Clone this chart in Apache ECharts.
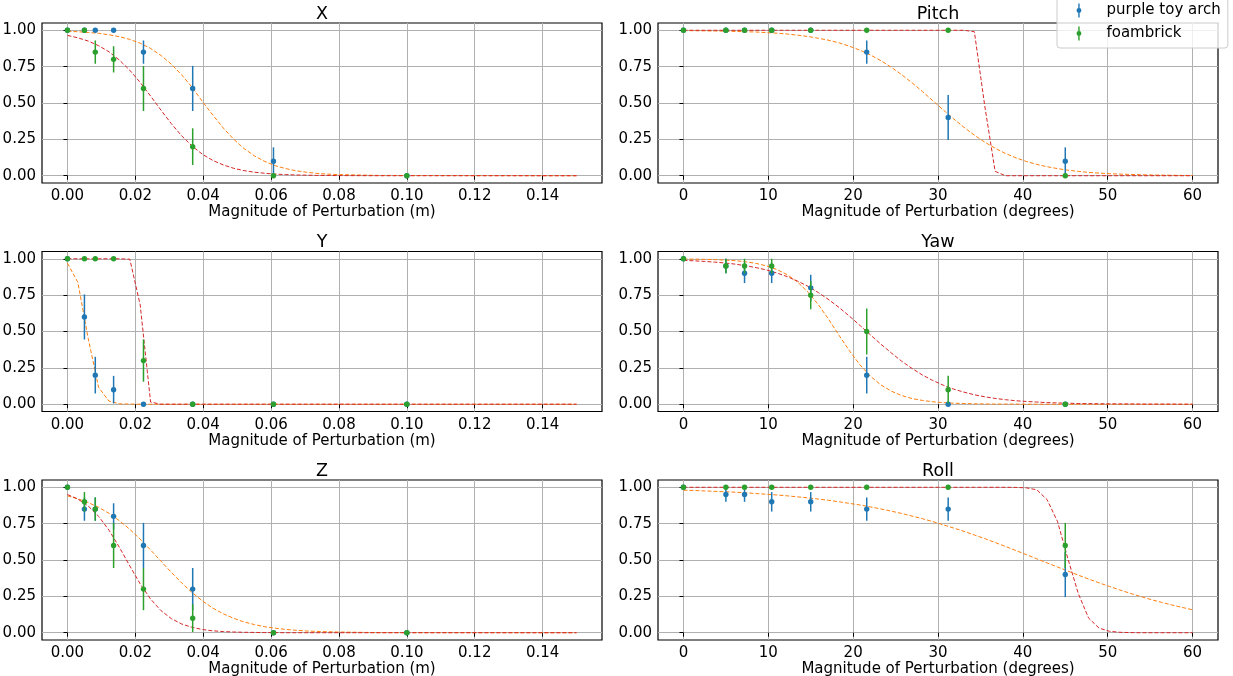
<!DOCTYPE html>
<html>
<head>
<meta charset="utf-8">
<script src="https://cdn.jsdelivr.net/npm/echarts@6/dist/echarts.min.js"></script>
<style>
html,body{margin:0;padding:0;background:#fff;}
#chart{width:1233px;height:676px;}
</style>
</head>
<body>
<div id="chart"></div>
<script>
// ---------- measured perturbation magnitudes ----------
const xsM   = [0, 0.005, 0.0082, 0.0136, 0.0224, 0.0369, 0.0607, 0.1];
const xsDeg = [0, 5, 7.2, 10.4, 15, 21.6, 31.2, 45];

// ---------- tick labels ----------
const ticksM   = [0, 0.02, 0.04, 0.06, 0.08, 0.10, 0.12, 0.14];
const ticksDeg = [0, 10, 20, 30, 40, 50, 60];
const ticksY   = [0, 0.25, 0.5, 0.75, 1.0];

// ---------- sample positions of the fitted curves ----------
const curveXM = [0, 0.00306, 0.00612, 0.00918, 0.01224, 0.01531, 0.01837, 0.02143, 0.02449, 0.02755,
  0.03061, 0.03367, 0.03673, 0.0398, 0.04286, 0.04592, 0.04898, 0.05204, 0.0551, 0.05816,
  0.06122, 0.06429, 0.06735, 0.07041, 0.07347, 0.07653, 0.07959, 0.0918, 0.15];
const curveXDeg = [0, 1.224, 2.449, 3.673, 4.898, 6.122, 7.347, 8.571, 9.796, 11.02,
  12.245, 13.469, 14.694, 15.918, 17.143, 18.367, 19.592, 20.816, 22.041, 23.265,
  24.49, 25.714, 26.939, 28.163, 29.388, 30.612, 31.837, 33.061, 34.286, 35.51,
  36.735, 37.959, 39.184, 40.408, 41.633, 42.857, 44.082, 45.306, 46.531, 47.755,
  48.98, 50.204, 51.429, 52.653, 53.878, 55.102, 56.327, 57.551, 58.776, 60];

// ---------- X ----------
const xArch    = [1, 1, 1, 1, 0.85, 0.6, 0.1, 0];
const xArchErr = [0, 0, 0, 0, 0.08, 0.155, 0.095, 0];
const xFoam    = [1, 1, 0.85, 0.8, 0.6, 0.2, 0, 0];
const xFoamErr = [0, 0, 0.08, 0.09, 0.155, 0.126, 0, 0];
const xFitArch = [0.993, 0.990, 0.985, 0.979, 0.969, 0.956, 0.937, 0.911, 0.875, 0.827, 0.767, 0.693, 0.608, 0.509, 0.416, 0.328, 0.251, 0.187, 0.136, 0.098, 0.069, 0.049, 0.034, 0.024, 0.016, 0.011, 0.008, 0.002, 0];
const xFitFoam = [0.965, 0.948, 0.926, 0.894, 0.852, 0.795, 0.725, 0.641, 0.548, 0.451, 0.358, 0.274, 0.204, 0.147, 0.105, 0.074, 0.051, 0.035, 0.024, 0.017, 0.011, 0.008, 0.005, 0.004, 0.002, 0.002, 0.001, 0, 0];

// ---------- Y ----------
const yArch    = [1, 0.6, 0.2, 0.1, 0, 0, 0, 0];
const yArchErr = [0, 0.155, 0.126, 0.095, 0, 0, 0, 0];
const yFoam    = [1, 1, 1, 1, 0.3, 0, 0, 0];
const yFoamErr = [0, 0, 0, 0, 0.145, 0, 0, 0];
const yFitArch = [0.970, 0.838, 0.452, 0.116, 0.021, 0.003, 0.001, 0, 0, 0, 0, 0, 0, 0, 0, 0, 0, 0, 0, 0, 0, 0, 0, 0, 0, 0, 0, 0, 0];
const yFitFoam = [1, 1, 1, 1, 1, 1, 0.997, 0.683, 0.015, 0, 0, 0, 0, 0, 0, 0, 0, 0, 0, 0, 0, 0, 0, 0, 0, 0, 0, 0, 0];

// ---------- Z ----------
const zArch    = [1, 0.85, 0.85, 0.8, 0.6, 0.3, 0, 0];
const zArchErr = [0, 0.08, 0.08, 0.09, 0.155, 0.145, 0, 0];
const zFoam    = [1, 0.9, 0.85, 0.6, 0.3, 0.1, 0, 0];
const zFoamErr = [0, 0.067, 0.08, 0.155, 0.145, 0.095, 0, 0];
const zFitArch = [0.941, 0.921, 0.895, 0.862, 0.821, 0.770, 0.711, 0.643, 0.569, 0.492, 0.415, 0.342, 0.276, 0.218, 0.169, 0.130, 0.099, 0.074, 0.056, 0.041, 0.031, 0.023, 0.017, 0.012, 0.009, 0.007, 0.005, 0.001, 0];
const zFitFoam = [0.950, 0.919, 0.871, 0.800, 0.705, 0.587, 0.459, 0.336, 0.232, 0.152, 0.097, 0.060, 0.037, 0.022, 0.013, 0.008, 0.005, 0.003, 0.002, 0.001, 0.001, 0, 0, 0, 0, 0, 0, 0, 0];

// ---------- Pitch ----------
const pitchArch    = [1, 1, 1, 1, 1, 0.85, 0.4, 0.1];
const pitchArchErr = [0, 0, 0, 0, 0, 0.08, 0.155, 0.095];
const pitchFoam    = [1, 1, 1, 1, 1, 1, 1, 0];
const pitchFoamErr = [0, 0, 0, 0, 0, 0, 0, 0];
const pitchFitArch = [0.998, 0.997, 0.996, 0.995, 0.994, 0.992, 0.990, 0.988, 0.984, 0.980,
  0.974, 0.966, 0.957, 0.945, 0.931, 0.913, 0.890, 0.863, 0.830, 0.791,
  0.746, 0.695, 0.639, 0.579, 0.516, 0.453, 0.391, 0.333, 0.279, 0.231,
  0.189, 0.153, 0.123, 0.098, 0.078, 0.062, 0.049, 0.038, 0.030, 0.023,
  0.018, 0.014, 0.011, 0.009, 0.007, 0.005, 0.004, 0.003, 0.002, 0.002];
const pitchFitFoam = [1, 1, 1, 1, 1, 1, 1, 1, 1, 1,
  1, 1, 1, 1, 1, 1, 1, 1, 1, 1,
  1, 1, 1, 1, 1, 1, 1, 1, 0.99, 0.48,
  0.03, 0, 0, 0, 0, 0, 0, 0, 0, 0,
  0, 0, 0, 0, 0, 0, 0, 0, 0, 0];

// ---------- Yaw ----------
const yawArch    = [1, 0.95, 0.9, 0.9, 0.8, 0.2, 0, 0];
const yawArchErr = [0, 0.05, 0.067, 0.067, 0.09, 0.126, 0, 0];
const yawFoam    = [1, 0.95, 0.95, 0.95, 0.75, 0.5, 0.1, 0];
const yawFoamErr = [0, 0.05, 0.05, 0.05, 0.097, 0.158, 0.095, 0];
const yawFitArch = [0.998, 0.998, 0.996, 0.994, 0.991, 0.987, 0.979, 0.968, 0.951, 0.926,
  0.890, 0.839, 0.770, 0.683, 0.581, 0.471, 0.365, 0.270, 0.192, 0.133,
  0.090, 0.060, 0.039, 0.026, 0.017, 0.011, 0.007, 0.005, 0.003, 0.002,
  0.001, 0.001, 0.001, 0, 0, 0, 0, 0, 0, 0,
  0, 0, 0, 0, 0, 0, 0, 0, 0, 0];
const yawFitFoam = [0.989, 0.986, 0.982, 0.977, 0.971, 0.963, 0.952, 0.939, 0.923, 0.902,
  0.877, 0.846, 0.810, 0.767, 0.718, 0.664, 0.604, 0.541, 0.477, 0.413,
  0.353, 0.296, 0.246, 0.201, 0.163, 0.131, 0.104, 0.083, 0.065, 0.051,
  0.040, 0.031, 0.024, 0.019, 0.015, 0.011, 0.009, 0.007, 0.005, 0.004,
  0.003, 0.003, 0.002, 0.002, 0.001, 0.001, 0.001, 0.001, 0, 0];

// ---------- Roll ----------
const rollArch    = [1, 0.95, 0.95, 0.9, 0.9, 0.85, 0.85, 0.4];
const rollArchErr = [0, 0.05, 0.05, 0.067, 0.067, 0.08, 0.08, 0.155];
const rollFoam    = [1, 1, 1, 1, 1, 1, 1, 0.6];
const rollFoamErr = [0, 0, 0, 0, 0, 0, 0, 0.155];
const rollFitArch = [0.980, 0.978, 0.975, 0.972, 0.969, 0.966, 0.962, 0.957, 0.952, 0.947,
  0.941, 0.934, 0.927, 0.919, 0.910, 0.900, 0.889, 0.878, 0.865, 0.851,
  0.836, 0.820, 0.802, 0.784, 0.764, 0.742, 0.720, 0.697, 0.672, 0.647,
  0.620, 0.593, 0.565, 0.537, 0.508, 0.480, 0.452, 0.424, 0.396, 0.369,
  0.343, 0.318, 0.294, 0.271, 0.249, 0.228, 0.209, 0.191, 0.174, 0.158];
const rollFitFoam = [1, 1, 1, 1, 1, 1, 1, 1, 1, 1,
  1, 1, 1, 1, 1, 1, 1, 1, 1, 1,
  1, 1, 1, 1, 1, 1, 1, 1, 1, 1,
  1, 1, 0.999, 0.996, 0.983, 0.915, 0.765, 0.51, 0.27, 0.1,
  0.032, 0.01, 0.003, 0.001, 0, 0, 0, 0, 0, 0];

// ---------- assembly ----------
const FONT = 'DejaVu Sans';
const C_ARCH = '#1f77b4', C_FOAM = '#2ca02c', C_FIT_ARCH = '#ff7f0e', C_FIT_FOAM = '#d62728';
const NAME_ARCH = 'purple toy arch', NAME_FOAM = 'foambrick';

const panels = [
  {title: 'X',     deg: false, xs: xsM,   cx: curveXM,   a: xArch,     ae: xArchErr,     f: xFoam,     fe: xFoamErr,     fa: xFitArch,     ff: xFitFoam},
  {title: 'Pitch', deg: true,  xs: xsDeg, cx: curveXDeg, a: pitchArch, ae: pitchArchErr, f: pitchFoam, fe: pitchFoamErr, fa: pitchFitArch, ff: pitchFitFoam},
  {title: 'Y',     deg: false, xs: xsM,   cx: curveXM,   a: yArch,     ae: yArchErr,     f: yFoam,     fe: yFoamErr,     fa: yFitArch,     ff: yFitFoam},
  {title: 'Yaw',   deg: true,  xs: xsDeg, cx: curveXDeg, a: yawArch,   ae: yawArchErr,   f: yawFoam,   fe: yawFoamErr,   fa: yawFitArch,   ff: yawFitFoam},
  {title: 'Z',     deg: false, xs: xsM,   cx: curveXM,   a: zArch,     ae: zArchErr,     f: zFoam,     fe: zFoamErr,     fa: zFitArch,     ff: zFitFoam},
  {title: 'Roll',  deg: true,  xs: xsDeg, cx: curveXDeg, a: rollArch,  ae: rollArchErr,  f: rollFoam,  fe: rollFoamErr,  fa: rollFitArch,  ff: rollFitFoam}
];

const colLeft = [42, 658];
const rowTop = [23, 251.5, 480];
const GW = 560, GH = 160;

function errRender(params, api) {
  const x = api.value(0), y = api.value(1), e = api.value(2);
  const c = api.coord([x, y]);
  const t = api.coord([x, y + e]);
  const b = api.coord([x, y - e]);
  const color = api.visual('color');
  const children = [];
  if (e > 0) {
    children.push({type: 'line', shape: {x1: t[0], y1: t[1], x2: b[0], y2: b[1]},
      style: {stroke: color, lineWidth: 1.5}});
  }
  children.push({type: 'circle', shape: {cx: c[0], cy: c[1], r: 2.7}, style: {fill: color}});
  return {type: 'group', children: children};
}

const grids = [], xAxes = [], yAxes = [], titles = [], series = [];
panels.forEach((p, i) => {
  const left = colLeft[i % 2], top = rowTop[Math.floor(i / 2)];
  grids.push({left: left, top: top, width: GW, height: GH, show: true,
    borderColor: '#000', borderWidth: 1.2, backgroundColor: 'transparent',
    containLabel: false, outerBoundsMode: 'none'});
  const xt = p.deg ? ticksDeg : ticksM;
  xAxes.push({
    type: 'value', gridIndex: i,
    min: p.deg ? -3 : -0.0075, max: p.deg ? 63 : 0.1575,
    axisLine: {show: false},
    axisTick: {show: true, length: 4, inside: false, customValues: xt, lineStyle: {color: '#000', width: 1}},
    axisLabel: {customValues: xt, margin: 6, fontSize: 15, color: '#000', fontFamily: FONT,
      formatter: v => p.deg ? String(Math.round(v)) : Number(v).toFixed(2)},
    splitLine: {show: true, lineStyle: {color: '#b0b0b0', width: 1}},
    name: p.deg ? 'Magnitude of Perturbation (degrees)' : 'Magnitude of Perturbation (m)',
    nameLocation: 'middle', nameGap: 16.5,
    nameTextStyle: {fontSize: 15, color: '#000', fontFamily: FONT}
  });
  yAxes.push({
    type: 'value', gridIndex: i, min: -0.05, max: 1.05,
    axisLine: {show: false},
    axisTick: {show: true, length: 4, inside: false, customValues: ticksY, lineStyle: {color: '#000', width: 1}},
    axisLabel: {customValues: ticksY, margin: 6, fontSize: 15, color: '#000', fontFamily: FONT,
      formatter: v => Number(v).toFixed(2)},
    splitLine: {show: true, lineStyle: {color: '#b0b0b0', width: 1}}
  });
  titles.push({text: p.title, left: left + GW / 2, top: top - 18, textAlign: 'center', padding: 0,
    textStyle: {fontSize: 17.5, fontWeight: 'normal', color: '#000', fontFamily: FONT}});
  series.push({
    type: 'line', xAxisIndex: i, yAxisIndex: i, name: 'fit arch ' + i,
    data: p.cx.map((x, j) => [x, p.fa[j]]), showSymbol: false, symbol: 'none',
    lineStyle: {color: C_FIT_ARCH, width: 1, type: [4, 2]}, itemStyle: {color: C_FIT_ARCH},
    silent: true, z: 2
  });
  series.push({
    type: 'line', xAxisIndex: i, yAxisIndex: i, name: 'fit foam ' + i,
    data: p.cx.map((x, j) => [x, p.ff[j]]), showSymbol: false, symbol: 'none',
    lineStyle: {color: C_FIT_FOAM, width: 1, type: [4, 2]}, itemStyle: {color: C_FIT_FOAM},
    silent: true, z: 2
  });
  series.push({
    type: 'custom', name: NAME_ARCH, xAxisIndex: i, yAxisIndex: i,
    renderItem: errRender, itemStyle: {color: C_ARCH},
    data: p.xs.map((x, j) => [x, p.a[j], p.ae[j]]), encode: {x: 0, y: 1}, z: 3
  });
  series.push({
    type: 'custom', name: NAME_FOAM, xAxisIndex: i, yAxisIndex: i,
    renderItem: errRender, itemStyle: {color: C_FOAM},
    data: p.xs.map((x, j) => [x, p.f[j], p.fe[j]]), encode: {x: 0, y: 1}, z: 4
  });
});

const legendIcon = 'path://M9,0 L11,0 L11,20 L9,20 Z M10,6.5 A3.5,3.5 0 1 1 9.99,6.5 Z';

const option = {
  animation: false,
  backgroundColor: '#fff',
  textStyle: {fontFamily: FONT},
  title: titles,
  grid: grids,
  xAxis: xAxes,
  yAxis: yAxes,
  legend: {
    data: [{name: NAME_ARCH, icon: legendIcon}, {name: NAME_FOAM, icon: legendIcon}],
    orient: 'vertical', left: 1057, top: -2,
    itemWidth: 5, itemHeight: 14, itemGap: 8,
    padding: [5, 7, 7, 19.5],
    backgroundColor: 'rgba(255,255,255,0.8)', borderColor: '#cccccc', borderWidth: 1, borderRadius: 3,
    textStyle: {fontSize: 15, color: '#000', fontFamily: FONT, padding: [0, 0, 0, 20]},
    selectedMode: false, z: 10
  },
  series: series
};

const chart = echarts.init(document.getElementById('chart'), null, {renderer: 'canvas'});
chart.setOption(option);
</script>
</body>
</html>
